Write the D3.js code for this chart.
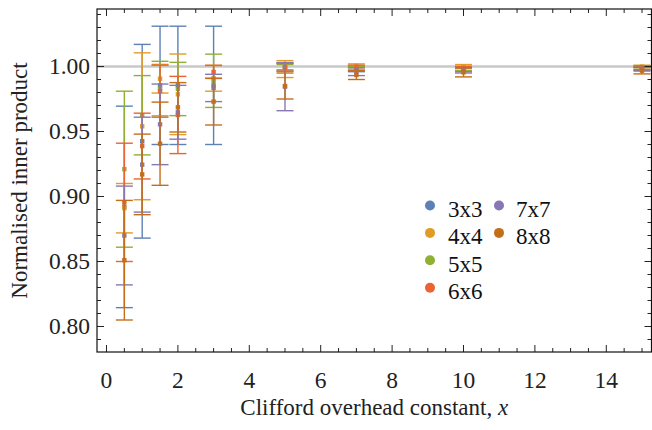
<!DOCTYPE html>
<html>
<head>
<meta charset="utf-8">
<script src="https://cdn.jsdelivr.net/npm/d3@7"></script>
<style>
  body { margin: 0; background: #fff; }
</style>
</head>
<body>
<div id="chart"></div>
<script>
'use strict';

// x positions of the measurements
const xValues = [0.5, 1, 1.5, 2, 3, 5, 7, 10, 15];

const seriesNames = ["3x3", "4x4", "5x5", "6x6", "7x7", "8x8"];
const seriesColors = ["#5E81B5", "#E19C24", "#8FB032", "#EB6235", "#8778B3", "#C56E1A"];

// means and error half-widths
const mean3 = [0.892, 0.9425, 0.9855, 0.9855, 0.9855, 0.9995, 0.998, 0.998, 0.9985];
const err3  = [0.0775, 0.0745, 0.0455, 0.0455, 0.0455, 0.003, 0.002, 0.0015, 0.0015];
const mean4 = [0.891, 0.954, 0.9906, 0.9786, 0.991, 0.998, 1.0005, 1.0, 1.0];
const err4  = [0.019, 0.0565, 0.011, 0.031, 0.010, 0.0065, 0.0015, 0.0015, 0.001];
const mean5 = [0.921, 0.9625, 0.983, 0.9827, 0.989, 0.9995, 0.9986, 0.9985, 0.9988];
const err5  = [0.060, 0.0305, 0.021, 0.0205, 0.0205, 0.002, 0.0015, 0.0015, 0.001];
const mean6 = [0.8955, 0.9388, 0.981, 0.9627, 0.9958, 0.9994, 0.999, 0.998, 0.999];
const err6  = [0.0455, 0.0253, 0.020, 0.0297, 0.005, 0.003, 0.002, 0.002, 0.0015];
const mean7 = [0.870, 0.9245, 0.9555, 0.9648, 0.9835, 0.9845, 0.996, 0.997, 0.998];
const err7  = [0.038, 0.0365, 0.031, 0.0207, 0.0105, 0.0185, 0.003, 0.002, 0.0015];
const mean8 = [0.851, 0.917, 0.9406, 0.9686, 0.973, 0.985, 0.9935, 0.9955, 0.9968];
const err8  = [0.046, 0.031, 0.032, 0.019, 0.018, 0.010, 0.0035, 0.0035, 0.0025];

const xTicks = [0, 2, 4, 6, 8, 10, 12, 14];
const yTicks = [0.80, 0.85, 0.90, 0.95, 1.00];

const allMeans = [mean3, mean4, mean5, mean6, mean7, mean8];
const allErrs = [err3, err4, err5, err6, err7, err8];

const width = 652, height = 430;
const frame = { left: 97, right: 651.5, top: 9, bottom: 352 };
const serif = "Liberation Serif";

const svg = d3.select("#chart").append("svg")
    .attr("width", width)
    .attr("height", height)
    .attr("font-family", serif);

const xScale = d3.scaleLinear().domain([-0.266, 15.266]).range([frame.left, frame.right]);
const yScale = d3.scaleLinear().domain([0.78038, 1.04423]).range([frame.bottom, frame.top]);

// reference line at 1
svg.append("line")
    .attr("x1", frame.left).attr("x2", frame.right)
    .attr("y1", yScale(1)).attr("y2", yScale(1))
    .attr("stroke", "#c8c8c8")
    .attr("stroke-width", 2.5);

// error bars, series drawn in order so the last one sits on top
const capHalf = 8.5;
allMeans.forEach((means, si) => {
    const color = seriesColors[si];
    const errs = allErrs[si];
    const rows = xValues.map((x, i) => ({ x: x, m: means[i], e: errs[i] }));
    const g = svg.append("g").attr("class", "series-" + si);

    g.selectAll("line.stem").data(rows).enter().append("line")
        .attr("class", "stem")
        .attr("x1", d => xScale(d.x)).attr("x2", d => xScale(d.x))
        .attr("y1", d => yScale(d.m - d.e)).attr("y2", d => yScale(d.m + d.e))
        .attr("stroke", color).attr("stroke-width", 1.4);

    g.selectAll("line.capTop").data(rows).enter().append("line")
        .attr("class", "capTop")
        .attr("x1", d => xScale(d.x) - capHalf).attr("x2", d => xScale(d.x) + capHalf)
        .attr("y1", d => yScale(d.m + d.e)).attr("y2", d => yScale(d.m + d.e))
        .attr("stroke", color).attr("stroke-width", 1.4);

    g.selectAll("line.capBot").data(rows).enter().append("line")
        .attr("class", "capBot")
        .attr("x1", d => xScale(d.x) - capHalf).attr("x2", d => xScale(d.x) + capHalf)
        .attr("y1", d => yScale(d.m - d.e)).attr("y2", d => yScale(d.m - d.e))
        .attr("stroke", color).attr("stroke-width", 1.4);

    g.selectAll("rect").data(rows).enter().append("rect")
        .attr("x", d => xScale(d.x) - 2.2)
        .attr("y", d => yScale(d.m) - 2.2)
        .attr("width", 4.4).attr("height", 4.4)
        .attr("fill", color);
});

// frame with ticks on all sides
const xMinor = d3.range(0, 15.3, 0.5);
const yMinor = d3.range(0.78, 1.045, 0.01).filter(v => v >= 0.7804 && v <= 1.0442);
const tickColor = "#222";

function isMajorX(v) { return Math.abs(v / 2 - Math.round(v / 2)) < 1e-6; }
function isMajorY(v) { return Math.abs(v / 0.05 - Math.round(v / 0.05)) < 1e-6; }

const ticks = svg.append("g").attr("stroke", tickColor).attr("stroke-width", 1);
ticks.selectAll("line.xb").data(xMinor).enter().append("line")
    .attr("x1", d => xScale(d)).attr("x2", d => xScale(d))
    .attr("y1", frame.bottom).attr("y2", d => frame.bottom - (isMajorX(d) ? 7 : 4));
ticks.selectAll("line.xt").data(xMinor).enter().append("line")
    .attr("x1", d => xScale(d)).attr("x2", d => xScale(d))
    .attr("y1", frame.top).attr("y2", d => frame.top + (isMajorX(d) ? 7 : 4));
ticks.selectAll("line.yl").data(yMinor).enter().append("line")
    .attr("y1", d => yScale(d)).attr("y2", d => yScale(d))
    .attr("x1", frame.left).attr("x2", d => frame.left + (isMajorY(d) ? 7 : 4));
ticks.selectAll("line.yr").data(yMinor).enter().append("line")
    .attr("y1", d => yScale(d)).attr("y2", d => yScale(d))
    .attr("x1", frame.right).attr("x2", d => frame.right - (isMajorY(d) ? 7 : 4));

svg.append("rect")
    .attr("x", frame.left).attr("y", frame.top)
    .attr("width", frame.right - frame.left).attr("height", frame.bottom - frame.top)
    .attr("fill", "none").attr("stroke", "#111").attr("stroke-width", 1.2);

// tick labels
svg.selectAll("text.xlab").data(xTicks).enter().append("text")
    .attr("class", "xlab")
    .attr("x", d => xScale(d))
    .attr("y", 388)
    .attr("text-anchor", "middle")
    .attr("font-size", 23.5)
    .attr("fill", "#222")
    .text(d => d);

svg.selectAll("text.ylab").data(yTicks).enter().append("text")
    .attr("class", "ylab")
    .attr("x", 90)
    .attr("y", d => yScale(d) + 7.5)
    .attr("text-anchor", "end")
    .attr("font-size", 23.5)
    .attr("fill", "#222")
    .text(d => d.toFixed(2));

// axis titles
const xTitle = svg.append("text")
    .attr("x", (frame.left + frame.right) / 2)
    .attr("y", 415)
    .attr("text-anchor", "middle")
    .attr("font-size", 23)
    .attr("fill", "#222");
xTitle.append("tspan").text("Clifford overhead constant, ");
xTitle.append("tspan").attr("font-style", "italic").text("x");

svg.append("text")
    .attr("transform", "translate(27," + ((frame.top + frame.bottom) / 2) + ") rotate(-90)")
    .attr("text-anchor", "middle")
    .attr("font-size", 23)
    .attr("fill", "#222")
    .text("Normalised inner product");

// legend
const legendRows = seriesNames.map((name, i) => ({
    name: name,
    color: seriesColors[i],
    col: i < 4 ? 0 : 1,
    row: i < 4 ? i : i - 4
}));
const legend = svg.append("g");
legend.selectAll("circle").data(legendRows).enter().append("circle")
    .attr("cx", d => 430 + d.col * 69)
    .attr("cy", d => 205.5 + d.row * 27.4)
    .attr("r", 5)
    .attr("fill", d => d.color);
legend.selectAll("text").data(legendRows).enter().append("text")
    .attr("x", d => 448 + d.col * 68)
    .attr("y", d => 217 + d.row * 27.4)
    .attr("font-size", 23)
    .attr("fill", "#111")
    .text(d => d.name);
</script>
</body>
</html>
